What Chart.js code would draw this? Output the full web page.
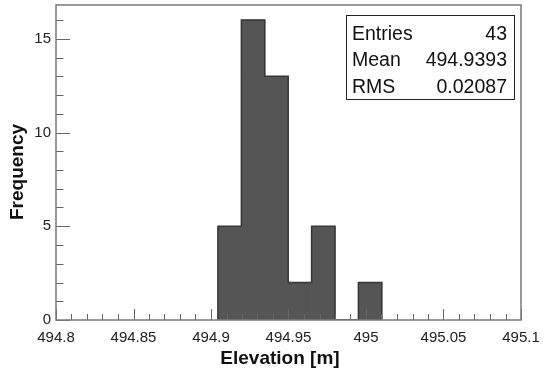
<!DOCTYPE html>
<html>
<head>
<meta charset="utf-8">
<script src="https://cdn.jsdelivr.net/npm/chart.js@4.4.1/dist/chart.umd.min.js"></script>
<style>
  html, body { margin: 0; padding: 0; background: #fff; }
</style>
</head>
<body>
<canvas id="histChart" width="549" height="374"></canvas>
<script>
// ===================== Data =====================
const binEdges = [494.9045, 494.9196, 494.9347, 494.9498, 494.9649, 494.9800, 494.9951, 495.0102];
const binCounts = [5, 16, 13, 2, 5, 0, 2];
const xTickValues = [494.8, 494.85, 494.9, 494.95, 495, 495.05, 495.1];
const xTickLabels = ['494.8', '494.85', '494.9', '494.95', '495', '495.05', '495.1'];
const yTickValues = [0, 5, 10, 15];
const yTickLabels = ['0', '5', '10', '15'];
const statsLabels = ['Entries', 'Mean', 'RMS'];
const statsValues = ['43', '494.9393', '0.02087'];

const FONT = "'Liberation Sans', Arial, Helvetica, sans-serif";

// ===================== Derived series =====================
const barPoints = binCounts.map((c, i) => ({ x: (binEdges[i] + binEdges[i + 1]) / 2, y: c }));

// step outline like a ROOT histogram (no lines between adjacent filled bins)
const outlinePoints = [{ x: binEdges[0], y: 0 }];
binCounts.forEach((c, i) => {
    outlinePoints.push({ x: binEdges[i], y: c });
    outlinePoints.push({ x: binEdges[i + 1], y: c });
});
outlinePoints.push({ x: binEdges[binEdges.length - 1], y: 0 });

// ===================== Frame / ticks / titles / stats =====================
const rootFrame = {
    id: 'rootFrame',
    afterDatasetsDraw(chart) {
        const { ctx, chartArea: a, scales: { x, y } } = chart;
        ctx.save();

        // inward ticks on x
        ctx.strokeStyle = '#666';
        ctx.lineWidth = 1;
        for (let k = 0; k <= 30; k++) {
            const px = Math.round(x.getPixelForValue(494.8 + k * 0.01)) + 0.5;
            const len = k % 5 === 0 ? 11 : 6;
            ctx.beginPath();
            ctx.moveTo(px, a.bottom);
            ctx.lineTo(px, a.bottom - len);
            ctx.stroke();
        }
        // inward ticks on y
        for (let k = 0; k <= 16; k++) {
            const py = Math.round(y.getPixelForValue(k)) + 0.5;
            const len = k % 5 === 0 ? 14 : 7.5;
            ctx.beginPath();
            ctx.moveTo(a.left, py);
            ctx.lineTo(a.left + len, py);
            ctx.stroke();
        }

        // frame
        ctx.strokeStyle = '#7a7a7a';
        ctx.lineWidth = 1.5;
        ctx.strokeRect(a.left, a.top, a.right - a.left, a.bottom - a.top);

        // axis titles
        ctx.fillStyle = '#111';
        ctx.font = `bold 19px ${FONT}`;
        ctx.textAlign = 'center';
        ctx.textBaseline = 'middle';
        ctx.fillText('Elevation [m]', 280, 359);
        ctx.save();
        ctx.translate(18, 172);
        ctx.rotate(-Math.PI / 2);
        ctx.fillText('Frequency', 0, 0);
        ctx.restore();

        // stats box
        const bx = 346.5, by = 15.5, bw = 168, bh = 84;
        ctx.fillStyle = '#fff';
        ctx.fillRect(bx, by, bw, bh);
        ctx.strokeStyle = '#222';
        ctx.lineWidth = 1;
        ctx.strokeRect(bx, by, bw, bh);
        ctx.fillStyle = '#111';
        ctx.font = `19.5px ${FONT}`;
        ctx.textBaseline = 'alphabetic';
        statsLabels.forEach((lbl, i) => {
            const base = 39.5 + i * 26.8;
            ctx.textAlign = 'left';
            ctx.fillText(lbl, 352, base);
            ctx.textAlign = 'right';
            ctx.fillText(statsValues[i], 507, base);
        });

        ctx.restore();
    }
};

// ===================== Chart Setup =====================
function setupChart() {
    new Chart(document.getElementById('histChart').getContext('2d'), {
        type: 'bar',
        data: {
            datasets: [{
                type: 'line',
                data: outlinePoints,
                borderColor: '#363636',
                borderWidth: 1.5,
                pointRadius: 0,
                fill: false,
                tension: 0,
                order: 0
            }, {
                type: 'bar',
                data: barPoints,
                backgroundColor: '#555555',
                borderWidth: 0,
                barPercentage: 1,
                categoryPercentage: 1,
                order: 1
            }]
        },
        options: {
            responsive: false,
            animation: false,
            layout: { padding: { top: 5, right: 28, left: 0, bottom: 0 } },
            plugins: { legend: { display: false }, tooltip: { enabled: false } },
            scales: {
                x: {
                    type: 'linear',
                    min: 494.8,
                    max: 495.1,
                    offset: false,
                    grid: { display: false, drawTicks: false },
                    border: { display: false },
                    afterBuildTicks: s => { s.ticks = xTickValues.map(v => ({ value: v })); },
                    afterFit: s => { s.height = 54; s.paddingLeft = 0; s.paddingRight = 0; },
                    ticks: {
                        autoSkip: false,
                        maxRotation: 0,
                        padding: 9,
                        color: '#222',
                        font: { family: FONT, size: 15 },
                        callback: (v, i) => xTickLabels[i]
                    }
                },
                y: {
                    min: 0,
                    max: 16.8,
                    grid: { display: false, drawTicks: false },
                    border: { display: false },
                    afterBuildTicks: s => { s.ticks = yTickValues.map(v => ({ value: v })); },
                    afterFit: s => { s.width = 56; s.paddingTop = 0; s.paddingBottom = 0; },
                    ticks: {
                        padding: 5,
                        color: '#222',
                        font: { family: FONT, size: 15 },
                        callback: (v, i) => yTickLabels[i]
                    }
                }
            }
        },
        plugins: [rootFrame]
    });
}

document.addEventListener('DOMContentLoaded', setupChart);
</script>
</body>
</html>
